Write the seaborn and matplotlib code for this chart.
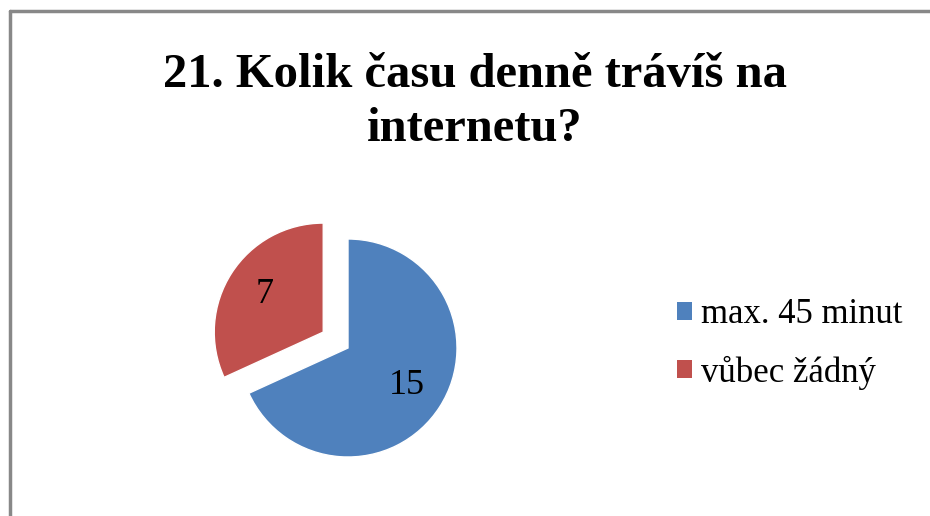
import matplotlib
matplotlib.use("Agg")
import matplotlib.pyplot as plt
import seaborn as sns
from matplotlib.patches import Patch
from matplotlib.lines import Line2D

sns.set_theme(style="white")
plt.rcParams['font.family'] = ['Liberation Serif', 'DejaVu Serif']
plt.rcParams['text.color'] = 'black'

title = "21. Kolik času denně trávíš na\ninternetu?"
categories = ["max. 45 minut", "vůbec žádný"]
counts = [15, 7]
colors = sns.color_palette(["#4F81BD", "#C0504D"])

fig = plt.figure(figsize=(9.3, 5.16), dpi=100)

# pie axes: square, centred around the pie centre (pixel coords of the reference)
W, H = 930, 516
cx, cy, r = 348, 348, 109
half = 1.5 * r
ax = fig.add_axes([(cx - half) / W, (H - cy - half) / H, 2 * half / W, 2 * half / H])
wedges, texts = ax.pie(counts, colors=colors, startangle=90, counterclock=False,
                       explode=[0, 0.27], labels=[str(c) for c in counts],
                       labeldistance=0.64,
                       textprops=dict(fontsize=26, color="black", ha="center", va="center"))
ax.set_xlim(-1.5, 1.5)
ax.set_ylim(-1.5, 1.5)
ax.set_aspect("equal")
ax.axis("off")

fig.text(475 / W, 1 - 102 / H, title, ha="center", va="center", fontsize=35,
         fontweight="bold", color="black", linespacing=1.3)

handles = [Patch(facecolor=c, edgecolor="none") for c in colors]
fig.legend(handles, categories, loc="center left", bbox_to_anchor=(677 / W, 1 - 344 / H),
           frameon=False, fontsize=25, handlelength=0.43, handleheight=0.43,
           handletextpad=0.25, labelspacing=0.7, borderpad=0, borderaxespad=0,
           labelcolor="black")

# chart border (only top and left edges show in the crop)
fig.add_artist(Line2D([10 / W, 1], [1 - 11 / H, 1 - 11 / H], color="#888888", lw=2.5,
                      transform=fig.transFigure))
fig.add_artist(Line2D([10 / W, 10 / W], [0, 1 - 11 / H], color="#888888", lw=2.5,
                      transform=fig.transFigure))

fig.savefig("out.png", dpi=100, facecolor="white")
